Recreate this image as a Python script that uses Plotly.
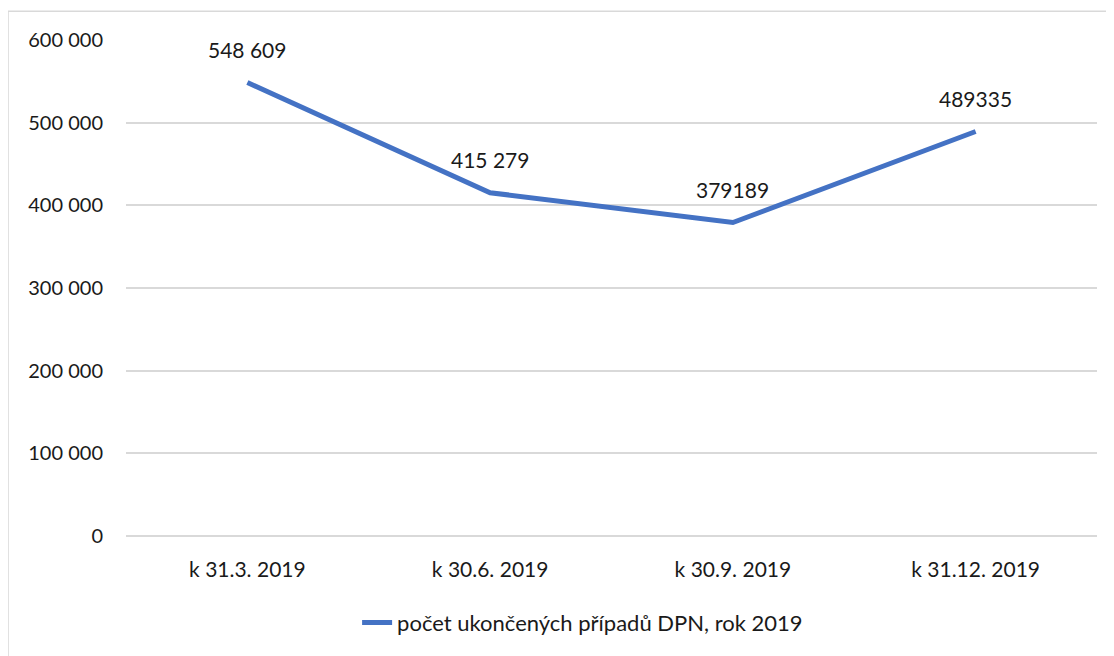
import plotly.graph_objects as go

categories = ["k 31.3. 2019", "k 30.6. 2019", "k 30.9. 2019", "k 31.12. 2019"]
values = [548609, 415279, 379189, 489335]
value_labels = ["548 609", "415 279", "379189", "489335"]
series_name = "počet ukončených případů DPN, rok 2019"
y_tickvals = [0, 100000, 200000, 300000, 400000, 500000, 600000]
y_ticktext = ["0", "100 000", "200 000", "300 000", "400 000", "500 000", "600 000"]

FONT = "Lato"
TXT = "#1a1a1a"
GRID = "#d9d9d9"

fig = go.Figure()
fig.add_trace(go.Scatter(
    x=categories, y=values, mode="lines", name=series_name,
    line=dict(color="#4472C4", width=5),
))

for c, v, t in zip(categories, values, value_labels):
    fig.add_annotation(x=c, y=v, text=t, showarrow=False, yshift=33,
                       font=dict(family=FONT, size=21, color=TXT))

fig.add_shape(type="rect", xref="paper", yref="paper",
              x0=-0.1215, x1=1.2, y0=-0.5, y1=1.058,
              line=dict(color=GRID, width=1.5), fillcolor="rgba(0,0,0,0)", layer="below")

fig.update_layout(
    width=1106, height=648,
    margin=dict(l=118, r=17, t=32, b=116),
    paper_bgcolor="white", plot_bgcolor="white",
    font=dict(family=FONT, size=20, color=TXT),
    showlegend=True,
    legend=dict(orientation="h", x=0.238, xanchor="left", y=-0.175, yanchor="middle",
                font=dict(family=FONT, size=22, color=TXT)),
    xaxis=dict(type="category", range=[-0.5, 3.5], showgrid=False, showline=False,
               zeroline=False, ticks="", ticklabelstandoff=19,
               tickfont=dict(family=FONT, size=21, color=TXT)),
    yaxis=dict(range=[0, 600000], tickvals=y_tickvals, ticktext=y_ticktext,
               showgrid=True, gridcolor=GRID, gridwidth=1.5,
               zeroline=True, zerolinecolor=GRID, zerolinewidth=1.5,
               showline=False, ticks="", ticklabelstandoff=22,
               tickfont=dict(family=FONT, size=20, color=TXT)),
)

fig.write_html("out.html")
